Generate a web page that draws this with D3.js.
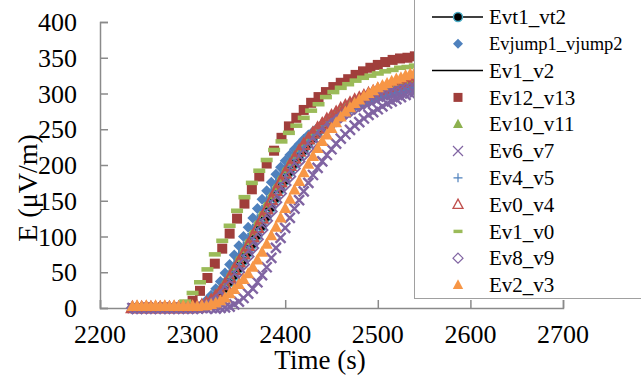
<!DOCTYPE html>
<html><head><meta charset="utf-8">
<script src="https://cdn.jsdelivr.net/npm/d3@7"></script>
<style>body{margin:0;background:#fff}svg{display:block}</style>
</head><body><svg id="c" width="641" height="376"></svg>
<script>
// ---------- data ----------
const timesA=[2235,2240,2245,2250,2255,2260,2265,2270,2275,2280,2285,2290,2295,2300,2305,2310,2315,2320,2325,2330,2335,2340,2345,2350,2355,2360,2365,2370,2375,2380,2385,2390,2395,2400,2405,2410,2415,2420,2425,2430,2435,2440,2445,2450,2455,2460,2465,2470,2475,2480,2485,2490,2495,2500,2505,2510,2515,2520,2525,2530,2535,2540,2545,2550];
const timesB=[2236,2244,2252,2260,2268,2276,2284,2292,2300,2308,2316,2324,2332,2340,2348,2356,2364,2372,2380,2388,2396,2404,2412,2420,2428,2436,2444,2452,2460,2468,2476,2484,2492,2500,2508,2516,2524,2532,2540,2548];
const xTicks=[2200,2300,2400,2500,2600,2700];
const yTicks=[0,50,100,150,200,250,300,350,400];
const seriesNames=["Evt1_vt2","Evjump1_vjump2","Ev1_v2","Ev12_v13","Ev10_v11","Ev6_v7","Ev4_v5","Ev0_v4","Ev1_v0","Ev8_v9","Ev2_v3"];

const evt1_vt2=[0,0,0,0,0,0,0,0,0,0,0,0,0,0,
 0,2,4,8,13,19,27,36,45,55,66,77,89,101,114,127,140,153,166,178,190,201,211,220,229,237,244,251,257,262,267,272,276,280,284,287,291,294,297,300,302,305,307,309,311,313,315,317,318,320];
const evjump1_vjump2=[0,0,0,0,0,0,0,0,0,0,0,0,0,0,
 2,5,11,18,27,37,49,61,74,87,100,113,126,139,152,164,176,187,197,206,214,222,229,236,242,247,252,257,261,265,269,272,275,278,281,284,287,290,292,294,296,298,300,302,304,305,307,308,309,310];
const ev1_v2=[0,0,0,0,0,0,0,0,0,0,0,0,0,0,
 1,3,7,12,18,26,35,45,56,67,78,90,102,115,128,141,154,166,178,190,201,211,220,229,237,244,251,257,262,267,272,276,280,284,288,291,294,297,300,302,305,307,309,311,313,315,317,319,320,322];
const ev12_v13=[0,0,1,0,1,0,1,3,10,24,42,62,83,104,125,146,166,184,202,220,238,254,266,277,287,295,302,309,315,320,326,331,336,340,344,347,349,350,352,353];
const ev10_v11=[0,0,0,0,0,0,0,0,0,0,0,0,0,0,
 1,3,7,12,19,27,37,47,58,70,82,94,107,120,133,146,158,170,182,194,204,214,223,231,239,246,253,259,264,269,274,278,282,286,289,292,295,298,301,303,306,308,310,312,314,316,318,319,321,322];
const ev6_v7=[0,-1,0,0,-1,0,0,0,-1,0,0,0,0,0,
 0,0,-1,0,-1,0,1,2,5,9,14,20,27,36,46,
 57,70,84,98,112,126,139,151,163,175,186,196,205,214,222,230,237,243,249,255,260,265,270,274,278,282,286,289,292,295,298,300,302,304,306];
const ev4_v5=[0,0,0,0,0,0,0,0,0,0,0,0,0,0,
 1,4,8,14,21,30,40,51,62,74,86,98,111,124,137,150,163,175,187,198,208,217,225,233,240,246,252,257,262,266,270,274,278,281,284,287,290,293,295,297,299,301,303,305,306,308,309,310,311,312];
const ev0_v4=[0,0,0,0,0,0,0,0,0,0,0,0,0,0,
 1,3,6,10,16,23,32,42,53,64,75,87,99,112,125,138,151,164,176,188,199,209,219,228,236,244,251,257,263,268,273,278,282,286,290,293,296,299,302,305,307,309,311,313,315,317,318,320,321,322];
const ev1_v0=[0,1,0,1,0,1,3,9,21,36,54,75,94,115,136,155,175,192,207,221,233,245,255,266,276,285,295,302,308,313,318,322,325,328,331,333,336,337,339,341];
const ev8_v9=[0,0,0,0,0,0,0,0,0,0,0,0,0,0,
 0,1,3,6,10,16,23,31,40,50,61,72,84,96,109,122,135,148,160,172,184,195,205,214,223,231,238,245,251,257,262,267,271,275,279,283,286,289,292,295,297,299,301,303,305,306,307,308,309,310];
const ev2_v3=[2,3,2,3,2,3,2,3,2,3,2,3,2,3,
 2,3,3,5,7,10,14,20,26,33,40,48,57,67,78,89,101,113,126,139,152,165,177,189,201,212,223,233,242,251,259,267,274,280,286,291,296,300,304,308,311,314,317,320,322,325,327,329,331,333];

// ---------- chart ----------
const FONT="'Times New Roman'";
const svg=d3.select("#c");
const x=d3.scaleLinear().domain([2200,2700]).range([100,563]);
const y=d3.scaleLinear().domain([0,400]).range([308,22]);
const axisColor="#8a8a8a";

const mk={
  circle:s=>d3.symbol(d3.symbolCircle,Math.PI*s*s)(),
  diamond:s=>`M0,${-s}L${s},0L0,${s}L${-s},0Z`,
  square:s=>`M${-s},${-s}H${s}V${s}H${-s}Z`,
  triangle:s=>`M0,${-s*1.1}L${s},${s*0.75}L${-s},${s*0.75}Z`,
  times:s=>`M${-s},${-s}L${s},${s}M${-s},${s}L${s},${-s}`,
  plus:s=>`M${-s},0H${s}M0,${-s}V${s}`,
  dash:s=>`M${-s},${-s*0.38}H${s}V${s*0.38}H${-s}Z`
};
const styles={
  "Evt1_vt2":{line:"#000",shape:"circle",size:4.5,fill:"#000",stroke:"#4BACC6",sw:1.4,ls:4.5},
  "Evjump1_vjump2":{shape:"diamond",size:5.5,fill:"#4F81BD",stroke:"none",sw:0,ls:5},
  "Ev1_v2":{line:"#000"},
  "Ev12_v13":{shape:"square",size:5,fill:"#A03E3B",stroke:"none",sw:0,ls:4.5},
  "Ev10_v11":{shape:"triangle",size:5.5,fill:"#8DB14F",stroke:"none",sw:0,ls:5},
  "Ev6_v7":{shape:"times",size:5,fill:"none",stroke:"#8064A2",sw:2.4,lsw:1.2,ls:5},
  "Ev4_v5":{shape:"plus",size:5,fill:"none",stroke:"#4F81BD",sw:1.8,lsw:1.2,ls:4.5},
  "Ev0_v4":{shape:"triangle",size:5.5,fill:"none",stroke:"#C0504D",sw:2.2,lsw:1.3,ls:5},
  "Ev1_v0":{shape:"dash",size:6,fill:"#9BBB59",stroke:"none",sw:0,ls:4.5},
  "Ev8_v9":{shape:"diamond",size:5.5,fill:"none",stroke:"#8064A2",sw:1.8,lsw:1.2,ls:5},
  "Ev2_v3":{shape:"triangle",size:6,fill:"#F79646",stroke:"none",sw:0,ls:5.2}
};
const seriesData=[
  {name:"Evt1_vt2",t:timesA,v:evt1_vt2},
  {name:"Evjump1_vjump2",t:timesA,v:evjump1_vjump2},
  {name:"Ev1_v2",t:timesA,v:ev1_v2},
  {name:"Ev12_v13",t:timesB,v:ev12_v13},
  {name:"Ev10_v11",t:timesA,v:ev10_v11},
  {name:"Ev6_v7",t:timesA,v:ev6_v7},
  {name:"Ev4_v5",t:timesA,v:ev4_v5},
  {name:"Ev0_v4",t:timesA,v:ev0_v4},
  {name:"Ev1_v0",t:timesB,v:ev1_v0},
  {name:"Ev8_v9",t:timesA,v:ev8_v9},
  {name:"Ev2_v3",t:timesA,v:ev2_v3}
];

// axes
const xAxis=svg.append("g").attr("transform","translate(0,308)")
  .call(d3.axisBottom(x).tickValues(xTicks).tickSize(-8).tickFormat(""));
const yAxis=svg.append("g").attr("transform","translate(100,0)")
  .call(d3.axisLeft(y).tickValues(yTicks).tickSize(-8).tickFormat(""));
[xAxis,yAxis].forEach(g=>{
  g.selectAll(".tick text").remove();
  g.select(".domain").attr("stroke",axisColor).attr("stroke-width",1.5);
  g.selectAll(".tick line").attr("stroke",axisColor).attr("stroke-width",1.5);
});
function addText(parent,xx,yy,size,txt,anchor){
  return parent.append("text").attr("x",xx).attr("y",yy).attr("font-size",size)
    .attr("font-family","Times New Roman").style("font-family",FONT)
    .attr("text-anchor",anchor||"start").attr("fill","#000").text(txt);
}
xTicks.forEach(v=>addText(svg,x(v),343,26,v,"middle"));
yTicks.forEach(v=>addText(svg,77,y(v)+9,26,v,"end"));

// axis titles
addText(svg,320,369,27,"Time (s)","middle");
svg.append("text").attr("transform","translate(37,188) rotate(-90)").attr("text-anchor","middle")
  .attr("font-size",28).attr("font-family","Times New Roman").style("font-family",FONT).text("E (μV/m)");

// series
const plot=svg.append("g");
seriesData.forEach(s=>{
  const st=styles[s.name];
  const pts=s.t.map((t,i)=>[t,s.v[i]]);
  if(st.line){
    plot.append("path").datum(pts).attr("fill","none").attr("stroke",st.line).attr("stroke-width",1.5)
      .attr("d",d3.line().x(d=>x(d[0])).y(d=>y(d[1])));
  }
  if(st.shape){
    plot.append("g").selectAll("path").data(pts).join("path")
      .attr("transform",d=>`translate(${x(d[0])},${y(d[1])})`)
      .attr("d",mk[st.shape](st.size))
      .attr("fill",st.fill).attr("stroke",st.stroke).attr("stroke-width",st.sw);
  }
});

// legend
const lg=svg.append("g");
lg.append("rect").attr("x",414.5).attr("y",-2).attr("width",240).attr("height",300.5)
  .attr("fill","#fff").attr("stroke","#a0a0a0").attr("stroke-width",1);
seriesNames.forEach((n,i)=>{
  const st=styles[n];
  const cy=17+i*26.8;
  if(st.line){
    lg.append("line").attr("x1",432).attr("x2",483).attr("y1",cy).attr("y2",cy)
      .attr("stroke",st.line).attr("stroke-width",1.5);
  }
  if(st.shape){
    lg.append("path").attr("transform",`translate(458,${cy})`).attr("d",mk[st.shape](st.ls))
      .attr("fill",st.fill).attr("stroke",st.stroke).attr("stroke-width",st.lsw||st.sw);
  }
  const fs=n==="Evjump1_vjump2"?18.5:21;
  addText(lg,489,cy+fs*0.34,fs,n);
});
</script></body></html>
